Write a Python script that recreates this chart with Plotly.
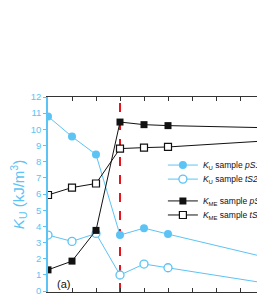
import plotly.graph_objects as go

x_idx = [0, 1, 2, 3, 4, 5, 10]
ku_pS = [10.8, 9.55, 8.44, 3.46, 3.89, 3.52, 1.76]
ku_tS2 = [3.46, 3.07, 3.56, 0.99, 1.67, 1.44, 0.27]
kme_pS = [1.31, 1.85, 3.75, 10.45, 10.29, 10.23, 10.07]
kme_tS = [5.94, 6.40, 6.65, 8.81, 8.87, 8.91, 9.37]
names = [
    "<i>K</i><sub>U</sub> sample <i>pS1</i>",
    "<i>K</i><sub>U</sub> sample <i>tS2</i>",
    "<i>K</i><sub>ME</sub> sample <i>pS1</i>",
    "<i>K</i><sub>ME</sub> sample <i>tS2</i>",
]
divider_x = 3
y_ticks = list(range(0, 13))

BLUE = "#5cc3f5"
BLACK = "#111111"
FONT = "Liberation Sans, Arial, sans-serif"

fig = go.Figure()
fig.add_trace(go.Scatter(x=x_idx, y=ku_pS, name=names[0], mode="lines+markers",
                         line=dict(color=BLUE, width=1),
                         marker=dict(symbol="circle", size=8, color=BLUE),
                         legend="legend"))
fig.add_trace(go.Scatter(x=x_idx, y=ku_tS2, name=names[1], mode="lines+markers",
                         line=dict(color=BLUE, width=1),
                         marker=dict(symbol="circle", size=8, color="white",
                                     line=dict(color=BLUE, width=1.3)),
                         legend="legend2"))
fig.add_trace(go.Scatter(x=x_idx, y=kme_pS, name=names[2], mode="lines+markers",
                         line=dict(color=BLACK, width=1),
                         marker=dict(symbol="square", size=7, color=BLACK),
                         legend="legend3"))
fig.add_trace(go.Scatter(x=x_idx, y=kme_tS, name=names[3], mode="lines+markers",
                         line=dict(color=BLACK, width=1),
                         marker=dict(symbol="square", size=7, color="white",
                                     line=dict(color=BLACK, width=1.2)),
                         legend="legend4"))

fig.add_vline(x=divider_x, line=dict(color="#e8141b", width=2, dash="dash"), layer="below")

def leg(y):
    return dict(x=0.383, y=y, xanchor="left", yanchor="middle",
                bgcolor="rgba(0,0,0,0)", font=dict(family=FONT, size=8.5, color=BLACK),
                itemclick=False)

fig.update_layout(
    width=380, height=300,
    margin=dict(l=40, r=40, t=89, b=16),
    paper_bgcolor="white", plot_bgcolor="white",
    font=dict(family=FONT, size=11),
    showlegend=True,
    legend=leg(0.651), legend2=leg(0.579), legend3=leg(0.467), legend4=leg(0.395),
    xaxis=dict(range=[0, 300 / 24], showgrid=False, zeroline=False, automargin=False,
               showline=True, linecolor="#333333", linewidth=1, mirror="ticks",
               ticks="inside", ticklen=4, tickcolor="#333333", dtick=1,
               showticklabels=False),
    yaxis=dict(range=[-0.06, 12], showgrid=False, zeroline=False, automargin=False,
               showline=True, linecolor=BLUE, linewidth=1.5,
               ticks="outside", ticklen=3, tickcolor=BLUE,
               ticklabeloverflow="allow",
               tickvals=y_ticks, tickfont=dict(color=BLUE, size=9.5, family=FONT),
               title=dict(text="<i>K</i><sub>U</sub> (kJ/m<sup>3</sup>)",
                          font=dict(color=BLUE, size=15, family=FONT), standoff=6)),
    annotations=[dict(text="(a)", xref="paper", yref="paper", x=0.023, y=0.04,
                      xanchor="left", yanchor="middle", showarrow=False,
                      font=dict(family=FONT, size=11, color=BLACK))],
)

fig.write_html("out.html")
